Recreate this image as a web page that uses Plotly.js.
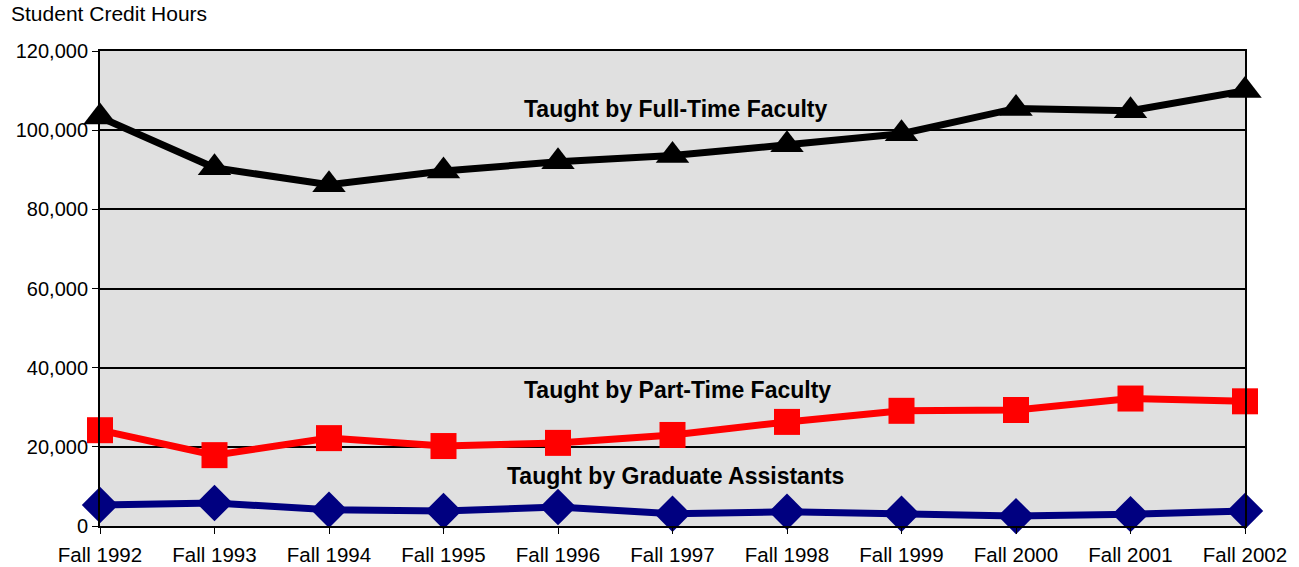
<!DOCTYPE html>
<html><head><meta charset="utf-8">
<script src="https://cdn.plot.ly/plotly-3.0.1.min.js"></script>
<style>html,body{margin:0;padding:0;background:#fff}</style>
</head><body>
<div id="chart" style="width:1299px;height:567px"></div>
<script>
const categories = ["Fall 1992","Fall 1993","Fall 1994","Fall 1995","Fall 1996","Fall 1997","Fall 1998","Fall 1999","Fall 2000","Fall 2001","Fall 2002"];
const fullTime = [103300, 90500, 86200, 89700, 92000, 93600, 96300, 99100, 105500, 104900, 110000];
const partTime = [24200, 17900, 22200, 20200, 21000, 23000, 26300, 29100, 29300, 32200, 31500];
const gradAssistants = [5300, 5800, 4100, 3800, 4800, 3100, 3600, 3100, 2500, 3000, 3800];
const yTicks = [0, 20000, 40000, 60000, 80000, 100000, 120000];
const yTickText = ["0","20,000","40,000","60,000","80,000","100,000","120,000"];

const traces = [
  {x: categories, y: fullTime, mode: "lines+markers", line: {color: "#000000", width: 7},
   marker: {symbol: "triangle-up", size: 29, color: "#000000"}, cliponaxis: false},
  {x: categories, y: partTime, mode: "lines+markers", line: {color: "#ff0000", width: 7},
   marker: {symbol: "square", size: 26, color: "#ff0000"}, cliponaxis: false},
  {x: categories, y: gradAssistants, mode: "lines+markers", line: {color: "#000080", width: 7},
   marker: {symbol: "diamond", size: 28, color: "#000080"}, cliponaxis: false}
];
const fam = "Liberation Sans, Arial, sans-serif";
const tickFontY = {family: fam, size: 20, color: "#000"};
const tickFontX = {family: fam, size: 20.5, color: "#000"};
const labelFont = {family: fam, size: 23, color: "#000"};
const layout = {
  width: 1299, height: 567,
  margin: {l: 100, r: 54, t: 51, b: 41},
  paper_bgcolor: "#ffffff", plot_bgcolor: "#e0e0e0",
  showlegend: false,
  font: {family: fam, size: 20, color: "#000"},
  xaxis: {type: "category", range: [0, 10], showgrid: false, zeroline: false,
    showline: true, linecolor: "#000", linewidth: 2, mirror: true,
    ticks: "outside", ticklen: 6, tickcolor: "#000", tickfont: tickFontX, ticklabelstandoff: 3, fixedrange: true},
  yaxis: {range: [0, 120000], tickvals: yTicks, ticktext: yTickText,
    showgrid: true, gridcolor: "#000", gridwidth: 2, zeroline: false,
    showline: true, linecolor: "#000", linewidth: 2, mirror: true,
    ticks: "outside", ticklen: 6, tickcolor: "#000", tickfont: tickFontY},
  annotations: [
    {text: "Student Credit Hours", xref: "paper", yref: "paper", x: 0, y: 1, xshift: -91, yshift: 38,
     xanchor: "left", yanchor: "middle", showarrow: false, font: {family: fam, size: 21, color: "#000"}},
    {text: "<b>Taught by Full-Time Faculty</b>", xref: "x", yref: "y", x: 5.03, y: 105300,
     showarrow: false, font: labelFont},
    {text: "<b>Taught by Part-Time Faculty</b>", xref: "x", yref: "y", x: 5.04, y: 34300,
     showarrow: false, font: labelFont},
    {text: "<b>Taught by Graduate Assistants</b>", xref: "x", yref: "y", x: 5.03, y: 12600,
     showarrow: false, font: labelFont}
  ]
};
Plotly.newPlot("chart", traces, layout, {displayModeBar: false, staticPlot: true});
</script>
</body></html>
